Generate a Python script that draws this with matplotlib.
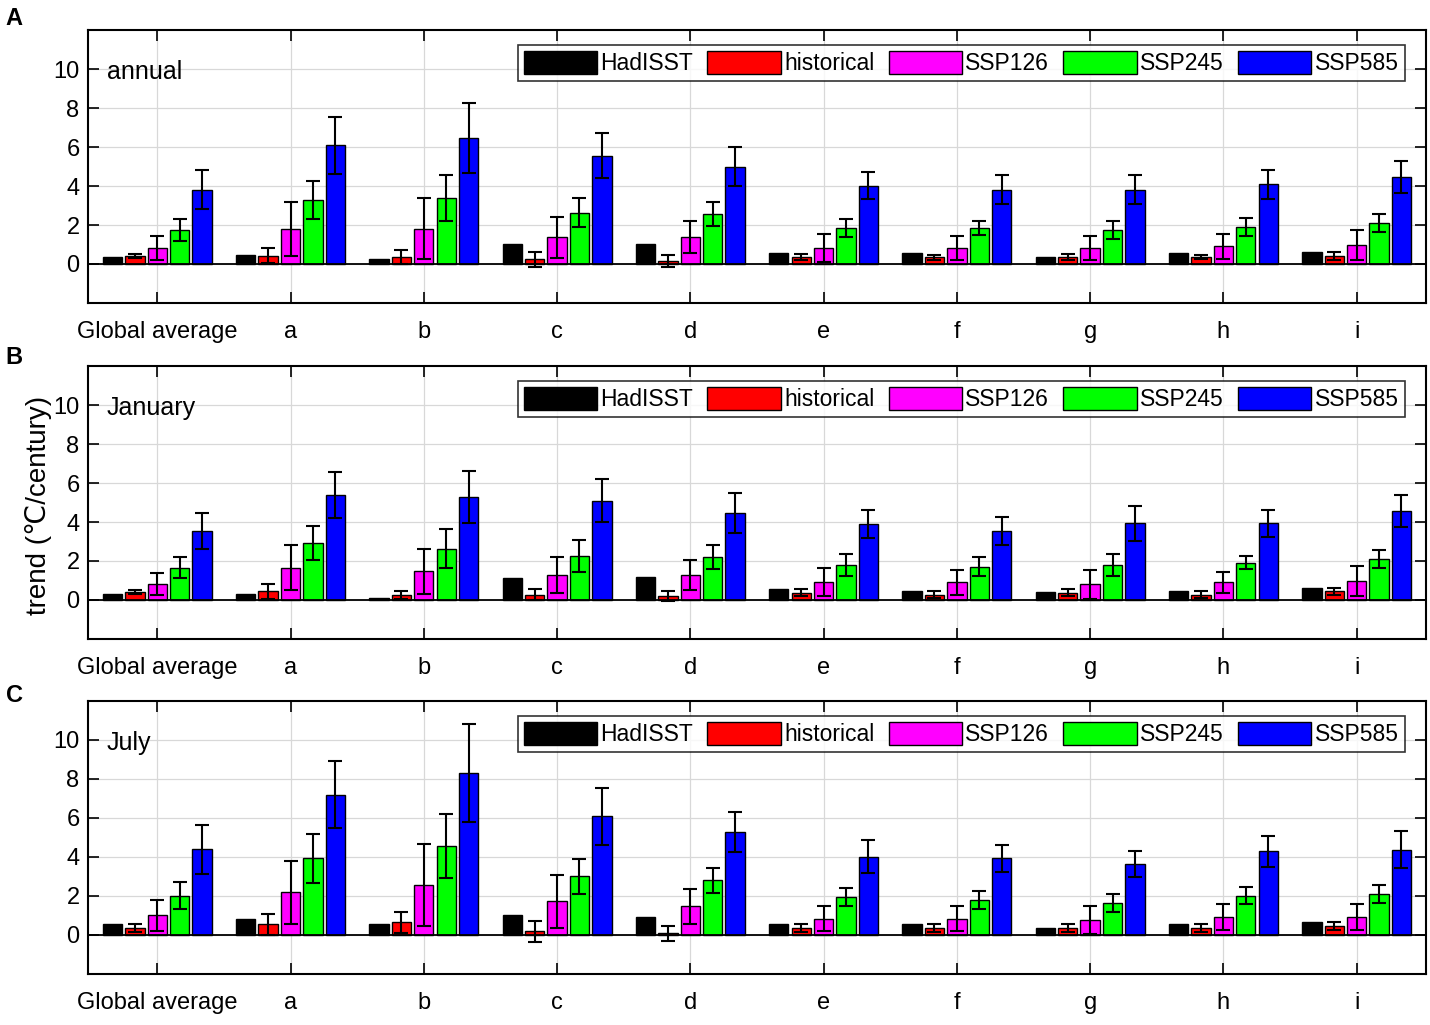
import matplotlib
matplotlib.use("Agg")
import matplotlib.pyplot as plt
import numpy as np

plt.rcParams['font.family'] = ['Liberation Sans', 'DejaVu Sans']

groups = ["Global average", "a", "b", "c", "d", "e", "f", "g", "h", "i"]
series = ["HadISST", "historical", "SSP126", "SSP245", "SSP585"]
colors = ["#000000", "#ff0000", "#ff00ff", "#00ff00", "#0000ff"]

# A: annual
annual_had = [0.37, 0.46, 0.27, 1.0, 1.0, 0.56, 0.56, 0.37, 0.56, 0.63]
annual_hist = [0.42, 0.42, 0.37, 0.25, 0.17, 0.37, 0.35, 0.37, 0.35, 0.42]
annual_hist_err = [0.1, 0.38, 0.36, 0.38, 0.3, 0.15, 0.12, 0.14, 0.1, 0.2]
annual_126 = [0.81, 1.81, 1.81, 1.37, 1.37, 0.83, 0.83, 0.83, 0.92, 0.98]
annual_126_err = [0.63, 1.38, 1.55, 1.05, 0.83, 0.73, 0.63, 0.63, 0.64, 0.75]
annual_245 = [1.73, 3.29, 3.36, 2.63, 2.56, 1.83, 1.83, 1.73, 1.9, 2.08]
annual_245_err = [0.56, 0.98, 1.18, 0.73, 0.63, 0.46, 0.36, 0.46, 0.46, 0.46]
annual_585 = [3.81, 6.08, 6.47, 5.56, 5.0, 4.02, 3.81, 3.81, 4.08, 4.46]
annual_585_err = [1.0, 1.46, 1.8, 1.17, 1.0, 0.71, 0.73, 0.73, 0.73, 0.81]

# B: January
jan_had = [0.29, 0.29, 0.1, 1.12, 1.19, 0.56, 0.46, 0.39, 0.46, 0.64]
jan_hist = [0.39, 0.44, 0.27, 0.27, 0.2, 0.37, 0.27, 0.37, 0.27, 0.44]
jan_hist_err = [0.1, 0.39, 0.2, 0.29, 0.27, 0.19, 0.19, 0.19, 0.19, 0.2]
jan_126 = [0.8, 1.66, 1.47, 1.27, 1.27, 0.92, 0.92, 0.81, 0.92, 0.98]
jan_126_err = [0.56, 1.15, 1.17, 0.92, 0.76, 0.72, 0.64, 0.75, 0.54, 0.75]
jan_245 = [1.66, 2.93, 2.64, 2.27, 2.19, 1.81, 1.71, 1.81, 1.92, 2.1]
jan_245_err = [0.54, 0.88, 1.0, 0.83, 0.62, 0.56, 0.48, 0.56, 0.35, 0.46]
jan_585 = [3.54, 5.37, 5.29, 5.1, 4.46, 3.9, 3.54, 3.93, 3.93, 4.56]
jan_585_err = [0.92, 1.17, 1.35, 1.09, 1.01, 0.71, 0.73, 0.9, 0.7, 0.81]

# C: July
jul_had = [0.58, 0.83, 0.58, 1.03, 0.92, 0.56, 0.56, 0.37, 0.56, 0.64]
jul_hist = [0.37, 0.54, 0.64, 0.19, 0.08, 0.36, 0.36, 0.36, 0.36, 0.46]
jul_hist_err = [0.2, 0.56, 0.56, 0.54, 0.38, 0.22, 0.22, 0.22, 0.22, 0.18]
jul_126 = [1.0, 2.19, 2.56, 1.73, 1.47, 0.83, 0.83, 0.75, 0.92, 0.92]
jul_126_err = [0.8, 1.62, 2.08, 1.37, 0.9, 0.64, 0.64, 0.72, 0.66, 0.66]
jul_245 = [2.02, 3.93, 4.56, 3.02, 2.81, 1.93, 1.81, 1.64, 2.02, 2.1]
jul_245_err = [0.71, 1.24, 1.63, 0.9, 0.65, 0.46, 0.46, 0.46, 0.45, 0.46]
jul_585 = [4.39, 7.19, 8.29, 6.08, 5.27, 4.02, 3.93, 3.64, 4.29, 4.37]
jul_585_err = [1.24, 1.71, 2.52, 1.48, 1.04, 0.83, 0.7, 0.65, 0.79, 0.94]

panels = [
    ("A", "annual", [annual_had, annual_hist, annual_126, annual_245, annual_585],
     [None, annual_hist_err, annual_126_err, annual_245_err, annual_585_err]),
    ("B", "January", [jan_had, jan_hist, jan_126, jan_245, jan_585],
     [None, jan_hist_err, jan_126_err, jan_245_err, jan_585_err]),
    ("C", "July", [jul_had, jul_hist, jul_126, jul_245, jul_585],
     [None, jul_hist_err, jul_126_err, jul_245_err, jul_585_err]),
]

fig = plt.figure(figsize=(14.3, 10.25), dpi=100)
bottoms = [0.7044, 0.3766, 0.0498]
label_y = [0.982, 0.651, 0.321]

x = np.arange(1, len(groups) + 1)
w = 0.145
step = 0.168

for k, (letter, title, vals, errs) in enumerate(panels):
    ax = fig.add_axes([0.0615, bottoms[k], 0.9357, 0.2663])
    ax.set_axisbelow(True)
    for j in range(5):
        pos = x + (j - 2) * step
        ax.bar(pos, vals[j], width=w, color=colors[j], edgecolor="black",
               linewidth=1.0, label=series[j], zorder=2)
        if errs[j] is not None:
            ax.errorbar(pos, vals[j], yerr=errs[j], fmt="none", ecolor="black",
                        elinewidth=1.5, capsize=5, capthick=1.5, zorder=3)
    ax.axhline(0, color="black", linewidth=1.3, zorder=2.5)
    ax.set_xlim(0.48, 10.52)
    ax.set_ylim(-2, 12)
    ax.set_yticks([0, 2, 4, 6, 8, 10])
    ax.set_xticks(x)
    ax.set_xticklabels(groups)
    ax.tick_params(axis="both", direction="in", length=8, width=1.2,
                   top=True, right=True, labelsize=17)
    ax.tick_params(axis="x", pad=13)
    ax.tick_params(axis="y", pad=6)
    ax.grid(True, color="#d8d8d8", linewidth=0.9)
    for s in ax.spines.values():
        s.set_linewidth(1.5)
    ax.text(0.014, 0.846, title, transform=ax.transAxes, fontsize=18,
            va="center", ha="left")
    leg = ax.legend(loc="upper right", bbox_to_anchor=(0.984, 0.945),
                    borderaxespad=0, ncol=5, fontsize=16.5, frameon=True,
                    fancybox=False, edgecolor="black", handlelength=3.2,
                    handleheight=1.2, handletextpad=0.15, columnspacing=0.62,
                    borderpad=0.25)
    leg.get_frame().set_linewidth(1.2)
    fig.text(0.004, label_y[k], letter, fontsize=17, fontweight="bold",
             va="center", ha="left")

fig.text(0.027, 0.507, "trend (℃/century)", rotation=90, fontsize=20,
         va="center", ha="center")

fig.savefig("out.png", dpi=100)
